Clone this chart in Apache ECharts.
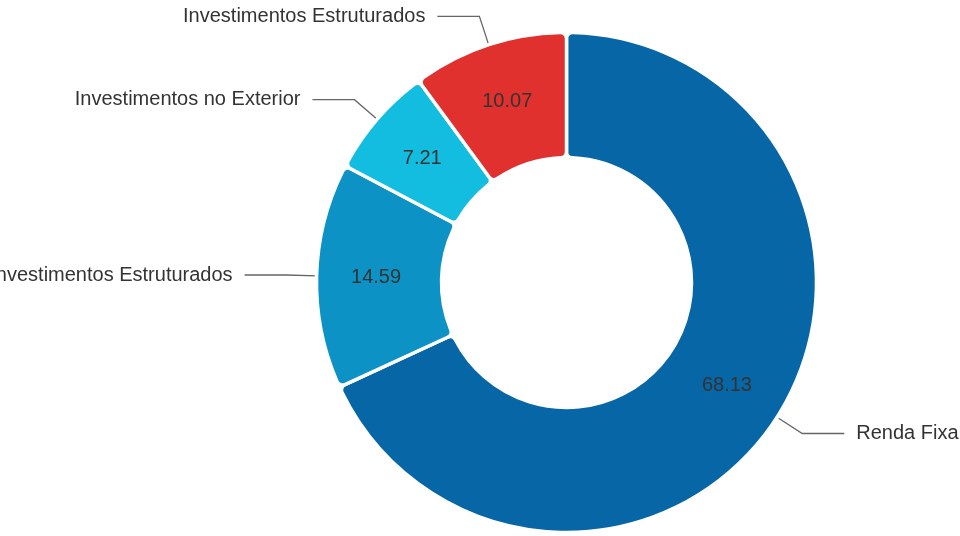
<!DOCTYPE html>
<html>
<head>
<meta charset="utf-8">
<script src="https://cdn.jsdelivr.net/npm/echarts@6/dist/echarts.min.js"></script>
<style>html,body{margin:0;padding:0;background:#fff;}#chart{width:960px;height:536px;}</style>
</head>
<body>
<div id="chart"></div>
<script>
const categories = ['Renda Fixa', 'Investimentos Estruturados', 'Investimentos no Exterior', 'Investimentos Estruturados'];
const values = [68.13, 14.59, 7.21, 10.07];
const colors = ['#0766A6', '#0C92C4', '#12BDE0', '#E1312F'];

const data = categories.map((name, i) => ({ name: name, value: values[i], itemStyle: { color: colors[i] } }));
const font = 'Liberation Sans, Arial, sans-serif';
const center = [566.5, 282.5];
const radius = [125, 250];

const chart = echarts.init(document.getElementById('chart'));
chart.setOption({
  animation: false,
  series: [
    {
      type: 'pie',
      center: center,
      radius: radius,
      startAngle: 90,
      clockwise: true,
      avoidLabelOverlap: false,
      itemStyle: { borderColor: '#fff', borderWidth: 3.5, borderRadius: 6 },
      label: {
        show: true,
        position: 'outside',
        formatter: '{b}',
        color: '#333',
        fontSize: 20,
        fontFamily: font,
        overflow: 'none',
        distanceToLabelLine: 12
      },
      labelLine: { show: true, length: 30, length2: 42, lineStyle: { color: '#666', width: 1.3 } },
      data: data
    },
    {
      type: 'pie',
      center: center,
      radius: radius,
      startAngle: 90,
      clockwise: true,
      silent: true,
      itemStyle: { color: 'transparent', borderWidth: 0 },
      label: {
        show: true,
        position: 'inside',
        formatter: '{c}',
        color: '#333',
        fontSize: 20,
        fontFamily: font
      },
      labelLine: { show: false },
      data: categories.map((name, i) => ({ name: name, value: values[i] }))
    }
  ]
});
</script>
</body>
</html>
